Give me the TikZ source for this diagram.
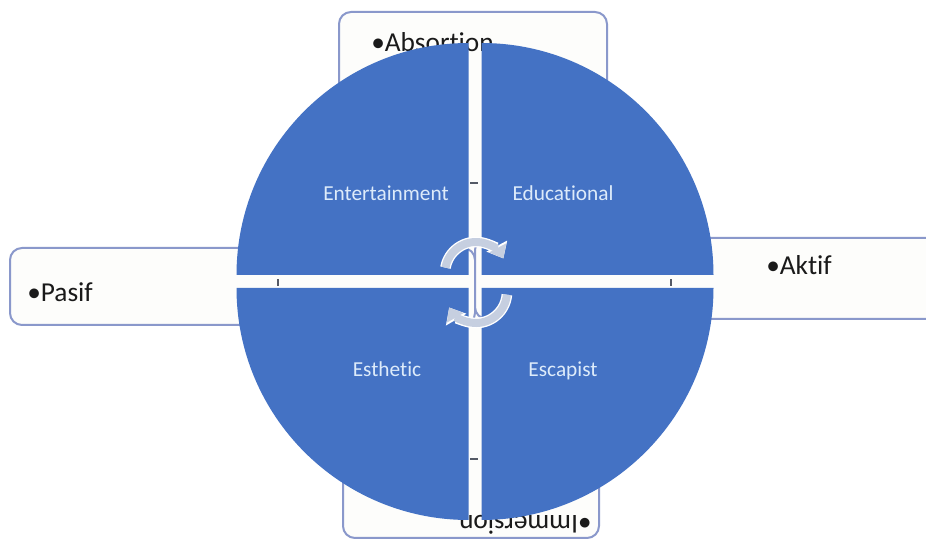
\documentclass[tikz,border=0pt]{standalone}
\usepackage{fontspec}
\setmainfont{Carlito}[Ligatures=NoCommon]
\usetikzlibrary{positioning, arrows.meta}
\definecolor{quadblue}{HTML}{4472C4}
\definecolor{boxedge}{HTML}{8A98CB}
\definecolor{boxfill}{HTML}{FDFDFB}
\definecolor{labelwhite}{HTML}{DDEBFA}
\definecolor{cyclegray}{HTML}{C6CFE0}
\definecolor{tickgray}{HTML}{555A66}
\definecolor{inkblack}{HTML}{1A1A1A}

\begin{document}
\begin{tikzpicture}[
    x=0.75pt, y=0.75pt,
    font=\fontsize{20pt}{24pt}\selectfont,
    sidebox/.style={
        draw=boxedge, line width=1.5pt, fill=boxfill,
        rounded corners=9pt, inner sep=0pt
    },
    boxtext/.style={text=inkblack, inner sep=0pt, font=\fontsize{20.5pt}{24pt}\selectfont},
    quad/.style={fill=quadblue},
    quadlabel/.style={text=labelwhite, text height=0.7em, text depth=0.22em,
        font=\fontsize{16pt}{19pt}\selectfont},
    cyclearrow/.style={
        line width=6pt, draw=cyclegray, -{Triangle[length=9pt, width=14pt]},
        preaction={draw=white, line width=8pt, -{Triangle[length=10.5pt, width=17pt]}}
    },
    tick/.style={draw=tickgray, line width=1pt}
]

\useasboundingbox (0,0) rectangle (926,547);
\clip (0,0) rectangle (926,547);

% side boxes behind the circle
\node[sidebox, minimum width=201pt, minimum height=201.75pt] (absbox) at (473,400.5) {};
\node[sidebox, minimum width=192pt, minimum height=192.75pt] (immbox) at (471,137.5) {};
\node[sidebox, minimum width=348.75pt, minimum height=57.75pt] (pasbox) at (242.5,260.5) {};
\node[sidebox, minimum width=363.75pt, minimum height=60.75pt] (aktbox) at (717.5,268.5) {};

\node[boxtext, anchor=base west] (abstext) at (371,495) {\textbullet Absortion};
\node[boxtext, anchor=base west, rotate=180] (immtext) at (592,32) {\textbullet Immersion};
\node[boxtext, anchor=base west] (pastext) at (27,245) {\textbullet Pasif};
\node[boxtext, anchor=base west] (akttext) at (766,272) {\textbullet Aktif};

% four quarters of the circle
\def\cx{475}
\def\cy{265.5}
\def\gp{6.5}
\def\rr{232}
\fill[quad] (\cx-\gp,\cy+\gp) -- ++(180:\rr) arc[start angle=180, end angle=90, radius=\rr] -- cycle;
\fill[quad] (\cx+\gp,\cy+\gp) -- ++(90:\rr) arc[start angle=90, end angle=0, radius=\rr] -- cycle;
\fill[quad] (\cx-\gp,\cy-\gp) -- ++(270:\rr) arc[start angle=270, end angle=180, radius=\rr] -- cycle;
\fill[quad] (\cx+\gp,\cy-\gp) -- ++(0:\rr) arc[start angle=0, end angle=-90, radius=\rr] -- cycle;

\node[quadlabel] (ent) at (386,350) {Entertainment};
\node[quadlabel] (edu) at (563,350) {Educational};
\node[quadlabel] (est) at (387,174) {Esthetic};
\node[quadlabel] (esc) at (563,174) {Escapist};

% small marks in the gaps
\draw[tick] (278,261) -- (278,268);
\draw[tick] (671,261) -- (671,268);
\draw[tick] (470,364) -- (478,364);
\draw[tick] (470,88) -- (478,88);

% cycle arrows
\coordinate (upc) at (476,274);
\coordinate (loc) at (476,255);
\draw[cyclearrow] (upc) ++(170:31) arc[start angle=170, end angle=28, radius=31];
\draw[cyclearrow] (loc) ++(-5:31) arc[start angle=-5, end angle=-150, radius=31];

\end{tikzpicture}
\end{document}
